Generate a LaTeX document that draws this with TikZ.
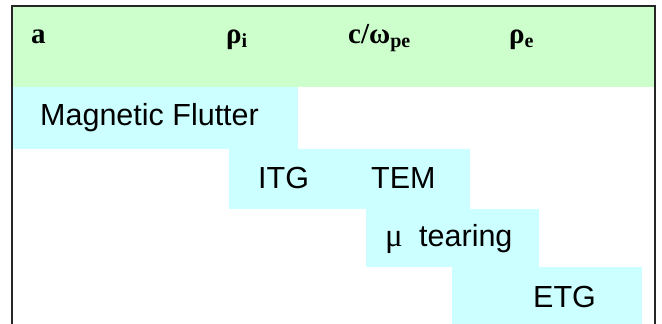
\documentclass[tikz,border=0pt]{standalone}
\usepackage{fontspec}
\setmainfont{Liberation Serif}
\newfontfamily\arialf{Liberation Sans}
\definecolor{hdrgreen}{HTML}{CCFFCC}
\definecolor{boxcyan}{HTML}{CCFFFF}
\newcommand{\hsub}[1]{\raisebox{-4pt}{\fontsize{20}{20}\selectfont #1}}
\begin{document}
\begin{tikzpicture}[x=1pt,y=-1pt,
  hdr/.style={anchor=base west,inner sep=0pt,font=\fontsize{29}{30}\selectfont\bfseries},
  lbl/.style={anchor=base west,inner sep=0pt,font=\arialf\fontsize{30.5}{32}\selectfont},
  frame/.style={line width=1.5pt,black!85}]
\useasboundingbox (0,0) rectangle (662,324);
% header
\fill[hdrgreen] (12,6) rectangle (655,87);
% cyan boxes
\fill[boxcyan] (12,87) rectangle (298,149);
\fill[boxcyan] (229,149) rectangle (470,209);
\fill[boxcyan] (366,209) rectangle (539,267);
\fill[boxcyan] (452,267) rectangle (642,324);
% frame
\coordinate (bl) at (12,324);
\coordinate (tl) at (12,6);
\coordinate (tr) at (655,6);
\coordinate (br) at (655,324);
\draw[frame] (bl) -- (tl) -- (tr) -- (br);
% header texts
\node[hdr] (ha) at (31,43) {a};
\node[hdr] (hri) at (226,43) {ρ\hsub{i}};
\node[hdr] (hc) at (348,43) {c/ω\hsub{pe}};
\node[hdr] (hre) at (509,43) {ρ\hsub{e}};
% labels
\node[lbl] (mf) at (40,125) {Magnetic Flutter};
\node[lbl] (itg) at (258,188) {ITG};
\node[lbl] (tem) at (371,188) {TEM};
\node[lbl] (mut) at (385,246) {\makebox[34pt][l]{\rmfamily\fontsize{33}{33}\selectfont μ}tearing};
\node[lbl] (etg) at (533,307) {ETG};
\end{tikzpicture}
\end{document}
